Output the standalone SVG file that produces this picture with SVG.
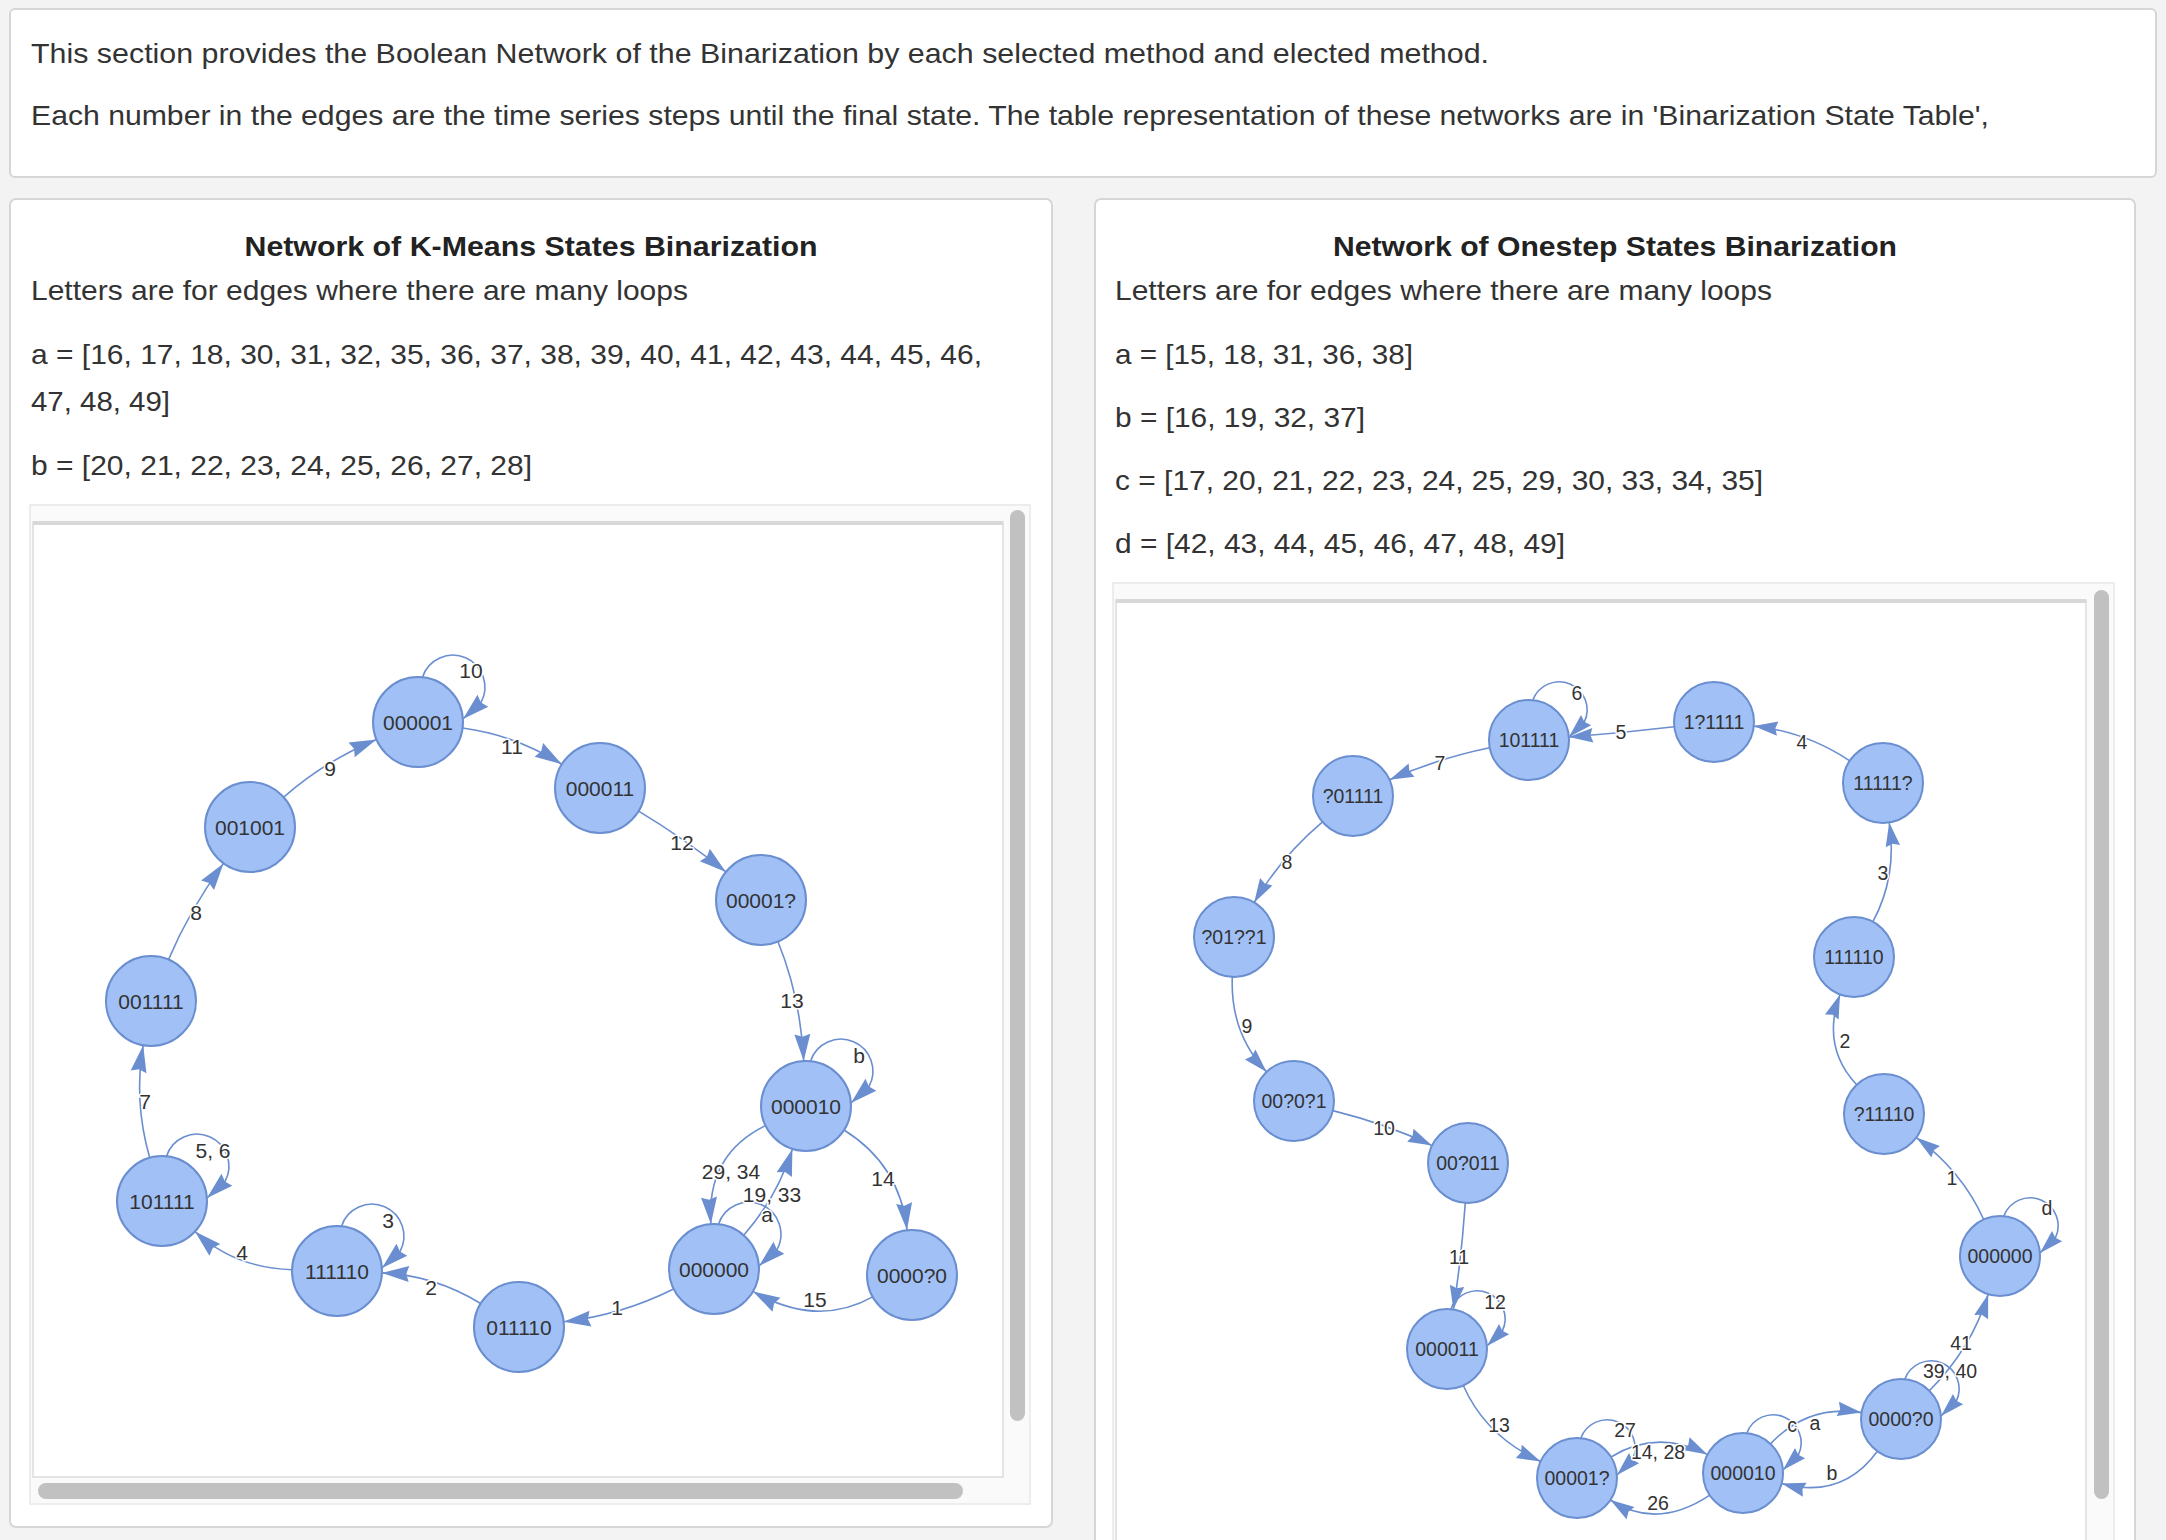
<svg xmlns="http://www.w3.org/2000/svg" width="2166" height="1540" viewBox="0 0 2166 1540">
<style>
.txt{font-family:"Liberation Sans",Arial,Helvetica,sans-serif;font-size:28px;fill:#333}
.ttl{font-family:"Liberation Sans",Arial,Helvetica,sans-serif;font-size:27px;font-weight:bold;fill:#222;text-anchor:middle}
.edge{fill:none;stroke:#6a8ecf;stroke-width:1.6}
.nodeL circle{fill:#a1c1f6;stroke:#6a8ecf;stroke-width:2}
.nodeR circle{fill:#a1c1f6;stroke:#6a8ecf;stroke-width:2}
.nodeL text{font-family:"Liberation Sans",Arial,sans-serif;font-size:21px;fill:#333;text-anchor:middle}
.nodeR text{font-family:"Liberation Sans",Arial,sans-serif;font-size:19.5px;fill:#333;text-anchor:middle}
.lblL{font-family:"Liberation Sans",Arial,sans-serif;font-size:21px;fill:#333;text-anchor:middle;stroke:#fff;stroke-width:3;paint-order:stroke;stroke-linejoin:round}
.lblR{font-family:"Liberation Sans",Arial,sans-serif;font-size:19.5px;fill:#333;text-anchor:middle;stroke:#fff;stroke-width:3;paint-order:stroke;stroke-linejoin:round}
.thumb{fill:#c1c1c1}
</style>
<defs>
<marker id="arrL" markerUnits="userSpaceOnUse" viewBox="0 0 28 17" markerWidth="28" markerHeight="17" refX="27" refY="8" orient="auto" overflow="visible"><path d="M27,8 L0,16 L2.7,8 L0,0 Z" fill="#6a8ecf"/></marker>
<marker id="arrR" markerUnits="userSpaceOnUse" viewBox="0 0 25 15" markerWidth="25" markerHeight="15" refX="24" refY="7.25" orient="auto" overflow="visible"><path d="M24,7.25 L0,14.5 L2.4,7.25 L0,0 Z" fill="#6a8ecf"/></marker>
</defs>
<rect x="0" y="0" width="2166" height="1540" fill="#f3f3f3"/>
<!-- top info box -->
<g id="info">
<rect x="10" y="9" width="2146" height="168" rx="5" fill="#fff" stroke="#d6d6d6" stroke-width="2"/>
<text class="txt" x="31" y="63" textLength="1458" lengthAdjust="spacingAndGlyphs">This section provides the Boolean Network of the Binarization by each selected method and elected method.</text>
<text class="txt" x="31" y="125" textLength="1958" lengthAdjust="spacingAndGlyphs">Each number in the edges are the time series steps until the final state. The table representation of these networks are in 'Binarization State Table',</text>
</g>
<!-- left panel -->
<g id="panel-kmeans">
<rect x="10" y="199" width="1042" height="1328" rx="6" fill="#fff" stroke="#d6d6d6" stroke-width="2"/>
<text class="ttl" x="531" y="256" textLength="573" lengthAdjust="spacingAndGlyphs">Network of K-Means States Binarization</text>
<text class="txt" x="31" y="300" textLength="657" lengthAdjust="spacingAndGlyphs">Letters are for edges where there are many loops</text>
<text class="txt" x="31" y="364" textLength="951" lengthAdjust="spacingAndGlyphs">a = [16, 17, 18, 30, 31, 32, 35, 36, 37, 38, 39, 40, 41, 42, 43, 44, 45, 46,</text>
<text class="txt" x="31" y="411" textLength="139" lengthAdjust="spacingAndGlyphs">47, 48, 49]</text>
<text class="txt" x="31" y="475" textLength="501" lengthAdjust="spacingAndGlyphs">b = [20, 21, 22, 23, 24, 25, 26, 27, 28]</text>
<rect x="30" y="505" width="1000" height="999" fill="#fafafa" stroke="#e8e8e8" stroke-width="1.5"/>
<rect x="33" y="522" width="970" height="955" fill="#fff" stroke="#dcdcdc" stroke-width="1.5"/>
<line x1="33" y1="523" x2="1003" y2="523" stroke="#d8d8d8" stroke-width="4"/>
<rect class="thumb" x="1010" y="510" width="15" height="911" rx="7.5"/>
<rect class="thumb" x="38" y="1483" width="925" height="16" rx="8"/>
</g>
<!-- right panel -->
<g id="panel-onestep">
<rect x="1095" y="199" width="1040" height="1370" rx="6" fill="#fff" stroke="#d6d6d6" stroke-width="2"/>
<text class="ttl" x="1615" y="256" textLength="564" lengthAdjust="spacingAndGlyphs">Network of Onestep States Binarization</text>
<text class="txt" x="1115" y="300" textLength="657" lengthAdjust="spacingAndGlyphs">Letters are for edges where there are many loops</text>
<text class="txt" x="1115" y="364" textLength="298" lengthAdjust="spacingAndGlyphs">a = [15, 18, 31, 36, 38]</text>
<text class="txt" x="1115" y="427" textLength="250" lengthAdjust="spacingAndGlyphs">b = [16, 19, 32, 37]</text>
<text class="txt" x="1115" y="490" textLength="648" lengthAdjust="spacingAndGlyphs">c = [17, 20, 21, 22, 23, 24, 25, 29, 30, 33, 34, 35]</text>
<text class="txt" x="1115" y="553" textLength="450" lengthAdjust="spacingAndGlyphs">d = [42, 43, 44, 45, 46, 47, 48, 49]</text>
<rect x="1113" y="583" width="1001" height="1000" fill="#fafafa" stroke="#e8e8e8" stroke-width="1.5"/>
<rect x="1116" y="600" width="970" height="990" fill="#fff" stroke="#dcdcdc" stroke-width="1.5"/>
<line x1="1116" y1="601" x2="2086" y2="601" stroke="#d8d8d8" stroke-width="4"/>
<rect class="thumb" x="2094" y="590" width="15" height="909" rx="7.5"/>
</g>
<!-- connectors: K-Means -->
<g id="edges-kmeans">
<path class="edge" marker-end="url(#arrL)" d="M673.6,1289 Q621.5,1315 563.7,1321.8"/>
<path class="edge" marker-end="url(#arrL)" d="M480.6,1303.5 Q434,1275 382,1272.9"/>
<path class="edge" marker-end="url(#arrL)" d="M292,1269.7 Q234.5,1268 195,1231.5"/>
<path class="edge" marker-end="url(#arrL)" d="M149.7,1157.7 Q133.5,1101 143.2,1045.3"/>
<path class="edge" marker-end="url(#arrL)" d="M168.5,959.6 Q189.5,910 223.5,863.4"/>
<path class="edge" marker-end="url(#arrL)" d="M283.7,797.2 Q324,761.5 376.5,739.4"/>
<path class="edge" marker-end="url(#arrL)" d="M462.6,728 Q515,735 561.8,764.2"/>
<path class="edge" marker-end="url(#arrL)" d="M638.6,811.1 Q683.5,838 725.9,871.9"/>
<path class="edge" marker-end="url(#arrL)" d="M778,941.7 Q800.5,997 803.7,1061"/>
<path class="edge" marker-end="url(#arrL)" d="M844,1130 Q900,1165 907,1230"/>
<path class="edge" marker-end="url(#arrL)" d="M872.7,1296.9 Q817,1328 753,1291.4"/>
<path class="edge" marker-end="url(#arrL)" d="M765.5,1125.6 Q706,1154.5 710.9,1224"/>
<path class="edge" marker-end="url(#arrL)" d="M743.7,1235.2 Q777.2,1197.2 792.4,1148.9"/>
<path class="edge" marker-end="url(#arrL)" d="M422.5,677.2 A32,32 0 1 1 481,702.5 L463,719"/>
<path class="edge" marker-end="url(#arrL)" d="M341.5,1226.2 A32,32 0 1 1 400,1251.5 L382,1268"/>
<path class="edge" marker-end="url(#arrL)" d="M166.5,1156.2 A32,32 0 1 1 225,1181.5 L207,1198"/>
<path class="edge" marker-end="url(#arrL)" d="M810.5,1061.2 A32,32 0 1 1 869,1086.5 L851,1103"/>
<path class="edge" marker-end="url(#arrL)" d="M718.5,1224.2 A32,32 0 1 1 777,1249.5 L759,1266"/>
<text class="lblL" x="617" y="1314.5">1</text>
<text class="lblL" x="431" y="1294.5">2</text>
<text class="lblL" x="388" y="1227.5">3</text>
<text class="lblL" x="242" y="1259.5">4</text>
<text class="lblL" x="213" y="1157.5">5, 6</text>
<text class="lblL" x="145" y="1108.5">7</text>
<text class="lblL" x="196" y="919.5">8</text>
<text class="lblL" x="330" y="775.5">9</text>
<text class="lblL" x="471" y="677.5">10</text>
<text class="lblL" x="512" y="753.5">11</text>
<text class="lblL" x="682" y="849.5">12</text>
<text class="lblL" x="792" y="1007.5">13</text>
<text class="lblL" x="859" y="1062.5">b</text>
<text class="lblL" x="883" y="1185.5">14</text>
<text class="lblL" x="815" y="1306.5">15</text>
<text class="lblL" x="731" y="1178.5">29, 34</text>
<text class="lblL" x="772" y="1201.5">19, 33</text>
<text class="lblL" x="767" y="1222">a</text>
</g>
<!-- connectors: Onestep -->
<g id="edges-onestep">
<path class="edge" marker-end="url(#arrR)" d="M1983.7,1219.5 Q1962,1171 1916.3,1137.6"/>
<path class="edge" marker-end="url(#arrR)" d="M1856.7,1084.8 Q1821,1046.5 1840,994.5"/>
<path class="edge" marker-end="url(#arrR)" d="M1872.9,921.7 Q1897.5,876 1889.2,822.5"/>
<path class="edge" marker-end="url(#arrR)" d="M1849.7,760.8 Q1805.5,731.5 1753.8,726.1"/>
<path class="edge" marker-end="url(#arrR)" d="M1674.3,726.7 Q1621.5,733 1568.9,737"/>
<path class="edge" marker-end="url(#arrR)" d="M1489.8,747.8 Q1439,758 1389.6,779.8"/>
<path class="edge" marker-end="url(#arrR)" d="M1322.5,821.9 Q1280.5,857.5 1254.2,902.5"/>
<path class="edge" marker-end="url(#arrR)" d="M1232.3,977 Q1230,1033 1266.6,1071.9"/>
<path class="edge" marker-end="url(#arrR)" d="M1332.8,1110.6 Q1387,1124 1432,1145.6"/>
<path class="edge" marker-end="url(#arrR)" d="M1465.3,1202.9 Q1461.5,1258 1453.3,1309.5"/>
<path class="edge" marker-end="url(#arrR)" d="M1463.3,1385.5 Q1486,1436.5 1540.6,1461.4"/>
<path class="edge" marker-end="url(#arrR)" d="M1611,1457 Q1657,1428.5 1707.5,1454.6"/>
<path class="edge" marker-end="url(#arrR)" d="M1709.8,1495.2 Q1657,1530.5 1610.4,1500"/>
<path class="edge" marker-end="url(#arrR)" d="M1770.4,1443.9 Q1808,1404 1861.5,1412.6"/>
<path class="edge" marker-end="url(#arrR)" d="M1877.4,1451.3 Q1842,1500 1781.6,1483.5"/>
<path class="edge" marker-end="url(#arrR)" d="M1929.3,1390.7 Q1971.5,1348.5 1988.2,1294.2"/>
<path class="edge" marker-end="url(#arrR)" d="M1532.8,700.2 A28,28 0 1 1 1584.4,721.8 L1569,737"/>
<path class="edge" marker-end="url(#arrR)" d="M1450.8,1309.2 A28,28 0 1 1 1502.4,1330.8 L1487,1346"/>
<path class="edge" marker-end="url(#arrR)" d="M1580.8,1438.2 A28,28 0 1 1 1632.4,1459.8 L1617,1475"/>
<path class="edge" marker-end="url(#arrR)" d="M1746.8,1433.2 A28,28 0 1 1 1798.4,1454.8 L1783,1470"/>
<path class="edge" marker-end="url(#arrR)" d="M1904.8,1379.2 A28,28 0 1 1 1956.4,1400.8 L1941,1416"/>
<path class="edge" marker-end="url(#arrR)" d="M2003.8,1216.2 A28,28 0 1 1 2055.4,1237.8 L2040,1253"/>
<text class="lblR" x="1952" y="1185">1</text>
<text class="lblR" x="1845" y="1048">2</text>
<text class="lblR" x="1883" y="880">3</text>
<text class="lblR" x="1802" y="749">4</text>
<text class="lblR" x="1621" y="739">5</text>
<text class="lblR" x="1577" y="700">6</text>
<text class="lblR" x="1440" y="770">7</text>
<text class="lblR" x="1287" y="869">8</text>
<text class="lblR" x="1247" y="1033">9</text>
<text class="lblR" x="1384" y="1135">10</text>
<text class="lblR" x="1459" y="1264">11</text>
<text class="lblR" x="1495" y="1309">12</text>
<text class="lblR" x="1499" y="1432">13</text>
<text class="lblR" x="1625" y="1437">27</text>
<text class="lblR" x="1658" y="1459">14, 28</text>
<text class="lblR" x="1658" y="1510">26</text>
<text class="lblR" x="1792" y="1432">c</text>
<text class="lblR" x="1815" y="1430">a</text>
<text class="lblR" x="1832" y="1480">b</text>
<text class="lblR" x="1950" y="1378">39, 40</text>
<text class="lblR" x="1961" y="1350">41</text>
<text class="lblR" x="2047" y="1215">d</text>
</g>
<!-- nodes: K-Means -->
<g id="km-000001" class="nodeL"><circle cx="418" cy="722" r="45"/><text x="418" y="730">000001</text></g>
<g id="km-000011" class="nodeL"><circle cx="600" cy="788" r="45"/><text x="600" y="796">000011</text></g>
<g id="km-001001" class="nodeL"><circle cx="250" cy="827" r="45"/><text x="250" y="835">001001</text></g>
<g id="km-00001q" class="nodeL"><circle cx="761" cy="900" r="45"/><text x="761" y="908">00001?</text></g>
<g id="km-001111" class="nodeL"><circle cx="151" cy="1001" r="45"/><text x="151" y="1009">001111</text></g>
<g id="km-000010" class="nodeL"><circle cx="806" cy="1106" r="45"/><text x="806" y="1114">000010</text></g>
<g id="km-101111" class="nodeL"><circle cx="162" cy="1201" r="45"/><text x="162" y="1209">101111</text></g>
<g id="km-111110" class="nodeL"><circle cx="337" cy="1271" r="45"/><text x="337" y="1279">111110</text></g>
<g id="km-011110" class="nodeL"><circle cx="519" cy="1327" r="45"/><text x="519" y="1335">011110</text></g>
<g id="km-000000" class="nodeL"><circle cx="714" cy="1269" r="45"/><text x="714" y="1277">000000</text></g>
<g id="km-0000q0" class="nodeL"><circle cx="912" cy="1275" r="45"/><text x="912" y="1283">0000?0</text></g>
<!-- nodes: Onestep -->
<g id="os-101111" class="nodeR"><circle cx="1529" cy="740" r="40"/><text x="1529" y="747">101111</text></g>
<g id="os-1q1111" class="nodeR"><circle cx="1714" cy="722" r="40"/><text x="1714" y="729">1?1111</text></g>
<g id="os-11111q" class="nodeR"><circle cx="1883" cy="783" r="40"/><text x="1883" y="790">11111?</text></g>
<g id="os-q01111" class="nodeR"><circle cx="1353" cy="796" r="40"/><text x="1353" y="803">?01111</text></g>
<g id="os-q01qq1" class="nodeR"><circle cx="1234" cy="937" r="40"/><text x="1234" y="944">?01??1</text></g>
<g id="os-111110" class="nodeR"><circle cx="1854" cy="957" r="40"/><text x="1854" y="964">111110</text></g>
<g id="os-q11110" class="nodeR"><circle cx="1884" cy="1114" r="40"/><text x="1884" y="1121">?11110</text></g>
<g id="os-00q0q1" class="nodeR"><circle cx="1294" cy="1101" r="40"/><text x="1294" y="1108">00?0?1</text></g>
<g id="os-00q011" class="nodeR"><circle cx="1468" cy="1163" r="40"/><text x="1468" y="1170">00?011</text></g>
<g id="os-000000" class="nodeR"><circle cx="2000" cy="1256" r="40"/><text x="2000" y="1263">000000</text></g>
<g id="os-000011" class="nodeR"><circle cx="1447" cy="1349" r="40"/><text x="1447" y="1356">000011</text></g>
<g id="os-0000q0" class="nodeR"><circle cx="1901" cy="1419" r="40"/><text x="1901" y="1426">0000?0</text></g>
<g id="os-000010" class="nodeR"><circle cx="1743" cy="1473" r="40"/><text x="1743" y="1480">000010</text></g>
<g id="os-00001q" class="nodeR"><circle cx="1577" cy="1478" r="40"/><text x="1577" y="1485">00001?</text></g>
</svg>
